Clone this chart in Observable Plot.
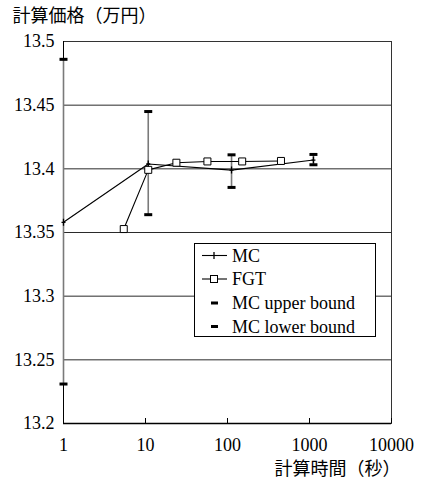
<!DOCTYPE html>
<html>
<head>
<meta charset="utf-8">
<script src="https://cdn.jsdelivr.net/npm/d3@7"></script>
<script src="https://cdn.jsdelivr.net/npm/@observablehq/plot@0.6"></script>
<style>
  html, body { margin: 0; padding: 0; background: #fff; }
  #wrap { position: relative; width: 424px; height: 483px; font-family: "Liberation Serif", "Noto Sans CJK JP", serif; }
  #legend { position: absolute; left: 194px; top: 243px; }
</style>
</head>
<body>
<div id="wrap"></div>
<script>
// ---- data ----
const mcTime  = [1, 10.8, 112, 1117];
const mcPrice = [13.358, 13.4038, 13.399, 13.4069];
const mcUpper = [13.486, 13.445, 13.411, 13.4113];
const mcLower = [13.231, 13.364, 13.3854, 13.4032];

const fgtTime  = [5.43, 10.8, 23.8, 56.9, 151, 449];
const fgtPrice = [13.3527, 13.3992, 13.4048, 13.4058, 13.4058, 13.4062];

const yTicks = [13.2, 13.25, 13.3, 13.35, 13.4, 13.45, 13.5];
const yTickLabels = ["13.2", "13.25", "13.3", "13.35", "13.4", "13.45", "13.5"];
const xTicks = [1, 10, 100, 1000, 10000];
const xTickLabels = ["1", "10", "100", "1000", "10000"];

const yTitle = "計算価格（万円）";
const xTitle = "計算時間（秒）";
const seriesNames = ["MC", "FGT", "MC upper bound", "MC lower bound"];

// ---- tables ----
const mc = mcTime.map((t, i) => ({time: t, price: mcPrice[i], upper: mcUpper[i], lower: mcLower[i]}));
const fgt = fgtTime.map((t, i) => ({time: t, price: fgtPrice[i]}));

// custom symbols
const capSymbol = {draw(ctx) { ctx.rect(-4, -1.5, 8, 3); }};
const plusSymbol = {draw(ctx) { ctx.moveTo(0, -3.5); ctx.lineTo(0, 3.5); ctx.moveTo(-2, 0); ctx.lineTo(2, 0); }};
const squareSymbol = {draw(ctx) { ctx.rect(-3.5, -3.5, 7, 7); }};

const latin = "Liberation Serif";
const cjk = "Noto Sans CJK JP";

const chart = Plot.plot({
  width: 424,
  height: 483,
  marginLeft: 63,
  marginRight: 33,
  marginTop: 41,
  marginBottom: 60,
  style: {background: "#fff", color: "#000"},
  x: {type: "log", domain: [1, 10000]},
  y: {domain: [13.2, 13.5]},
  marks: [
    Plot.ruleY(yTicks, {stroke: "#2a2a2a", strokeWidth: 1}),
    Plot.frame({stroke: "#333", strokeWidth: 1}),
    Plot.ruleY([13.2], {stroke: "#000", strokeWidth: 1.5}),
    Plot.ruleX([1], {stroke: "#000", strokeWidth: 1}),
    // error bars
    Plot.ruleX(mc, {x: "time", y1: "lower", y2: "upper", stroke: "#7a7a7a", strokeWidth: 1.6}),
    Plot.dot(mc, {x: "time", y: "upper", symbol: capSymbol, fill: "#000", stroke: "none", r: 3}),
    Plot.dot(mc, {x: "time", y: "lower", symbol: capSymbol, fill: "#000", stroke: "none", r: 3}),
    // lines
    Plot.line(mc, {x: "time", y: "price", stroke: "#000", strokeWidth: 1.1}),
    Plot.line(fgt, {x: "time", y: "price", stroke: "#000", strokeWidth: 1.1}),
    Plot.dot(mc, {x: "time", y: "price", symbol: plusSymbol, stroke: "#000", fill: "none", strokeWidth: 1.3, r: 3}),
    Plot.dot(fgt, {x: "time", y: "price", symbol: squareSymbol, stroke: "#000", fill: "#fff", strokeWidth: 1, r: 3}),
    // axes
    Plot.axisY({ticks: yTicks, tickFormat: (d) => yTickLabels[yTicks.indexOf(d)], tickSize: 0, tickPadding: 9, fontSize: 18, fontFamily: latin, label: null}),
    Plot.axisX({ticks: xTicks, tickFormat: (d) => xTickLabels[xTicks.indexOf(d)], tickSize: -5, tickPadding: 20, fontSize: 18, fontFamily: latin, label: null}),
    // titles
    Plot.text([yTitle], {frameAnchor: "top-left", text: (d) => d, dx: -51, dy: -25, textAnchor: "start", lineAnchor: "middle", fontSize: 18, fontFamily: cjk}),
    Plot.text([xTitle], {frameAnchor: "bottom-left", text: (d) => d, dx: 211, dy: 46, textAnchor: "start", lineAnchor: "middle", fontSize: 18, fontFamily: cjk})
  ]
});
document.getElementById("wrap").appendChild(chart);

// ---- legend ----
const lw = 181, lh = 93;
const leg = d3.create("svg").attr("id", "legend").attr("width", lw + 1).attr("height", lh + 1)
  .attr("font-family", latin).attr("font-size", 18);
leg.append("rect").attr("x", 0.5).attr("y", 0.5).attr("width", lw).attr("height", lh)
  .attr("fill", "#fff").attr("stroke", "#000").attr("stroke-width", 1);
const rowY = [12.5, 36, 60, 83.5];
seriesNames.forEach((name, i) => {
  const g = leg.append("g").attr("transform", `translate(0,${rowY[i]})`);
  if (i === 0) {
    g.append("line").attr("x1", 8).attr("x2", 33).attr("stroke", "#000").attr("stroke-width", 1.1);
    g.append("line").attr("x1", 20).attr("x2", 20).attr("y1", -3.5).attr("y2", 3.5).attr("stroke", "#000").attr("stroke-width", 1.3);
  } else if (i === 1) {
    g.append("line").attr("x1", 8).attr("x2", 33).attr("stroke", "#000").attr("stroke-width", 1.1);
    g.append("rect").attr("x", 16.5).attr("y", -3.5).attr("width", 7).attr("height", 7).attr("fill", "#fff").attr("stroke", "#000");
  } else {
    g.append("rect").attr("x", 17).attr("y", -1.5).attr("width", 7).attr("height", 3).attr("fill", "#000");
  }
  g.append("text").attr("x", 38).attr("dy", "0.35em").text(name);
});
document.getElementById("wrap").appendChild(leg.node());
</script>
</body>
</html>
